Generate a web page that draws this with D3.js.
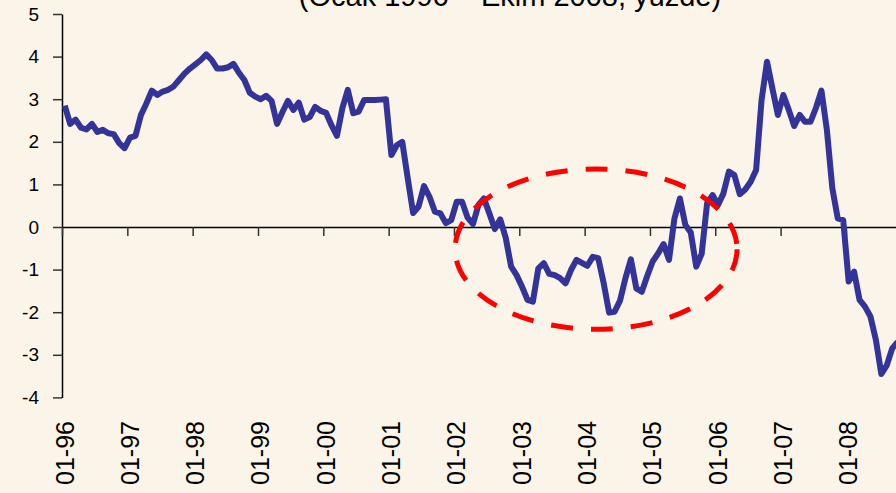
<!DOCTYPE html>
<html>
<head>
<meta charset="utf-8">
<script src="https://cdn.jsdelivr.net/npm/d3@7"></script>
<style>
  html, body { margin: 0; padding: 0; background: #FAF4E9; overflow: hidden; }
  svg { display: block; }
  text { font-family: Arial, "Liberation Sans", sans-serif; fill: #000; }
</style>
</head>
<body>
<svg id="chart" width="896" height="493"></svg>
<script>
// ---- data ----
const titleText = "(Ocak 1996 – Ekim 2008, yüzde)";
const monthCount = 154;           // Jan 1996 .. Oct 2008
const tickLabels = ["01-96","01-97","01-98","01-99","01-00","01-01","01-02",
                    "01-03","01-04","01-05","01-06","01-07","01-08"];
const yTicks = [-4, -3, -2, -1, 0, 1, 2, 3, 4, 5];
const values = [
  2.85, 2.42, 2.52, 2.33, 2.29, 2.42, 2.23, 2.28, 2.20, 2.18, 1.97, 1.85,   // 1996
  2.10, 2.14, 2.63, 2.90, 3.20, 3.10, 3.18, 3.22, 3.30, 3.45, 3.60, 3.72,   // 1997
  3.82, 3.92, 4.05, 3.92, 3.72, 3.72, 3.75, 3.83, 3.62, 3.45, 3.15, 3.06,   // 1998
  3.00, 3.08, 2.96, 2.42, 2.70, 2.96, 2.75, 2.92, 2.52, 2.58, 2.82, 2.73,   // 1999
  2.68, 2.39, 2.14, 2.79, 3.22, 2.67, 2.71, 2.98, 2.98, 2.98, 2.99, 3.00,   // 2000
  1.69, 1.92, 2.00, 1.15, 0.33, 0.48, 0.96, 0.71, 0.36, 0.32, 0.09, 0.16,   // 2001
  0.59, 0.59, 0.22, 0.07, 0.52, 0.67, 0.32, -0.05, 0.18, -0.25, -0.93, -1.13, // 2002
  -1.40, -1.71, -1.75, -0.97, -0.85, -1.10, -1.13, -1.20, -1.32, -1.01, -0.77, -0.84, // 2003
  -0.91, -0.70, -0.73, -1.32, -2.01, -1.99, -1.73, -1.20, -0.76, -1.44, -1.52, -1.15, // 2004
  -0.81, -0.62, -0.40, -0.77, 0.20, 0.67, 0.05, -0.13, -0.93, -0.63, 0.56, 0.75,  // 2005
  0.52, 0.79, 1.30, 1.22, 0.77, 0.88, 1.06, 1.34, 2.98, 3.88, 3.25, 2.63,   // 2006
  3.10, 2.75, 2.37, 2.63, 2.47, 2.47, 2.80, 3.20, 2.28, 0.91, 0.20, 0.16,   // 2007
  -1.28, -1.05, -1.71, -1.87, -2.10, -2.65, -3.45, -3.25, -2.85, -2.70      // 2008
];
// highlighted period (ellipse): centre month index & value, radii in months & units
const highlightCenter = [98.1, -0.52];
const highlightRadius = [25.9, 1.88];

// ---- layout ----
const svg = d3.select("#chart");
const W = 896, H = 493;
const left = 62, monthW = 5.444;
const x = d3.scaleLinear().domain([0, monthCount]).range([left, left + monthCount * monthW]);
const y = d3.scaleLinear().domain([-4, 5]).range([397.4, 14]);

svg.append("rect").attr("width", W).attr("height", H).attr("fill", "#FAF4E9");

// title (mostly cut off at the top, as in the reference)
svg.append("text")
  .attr("x", 510).attr("y", 6)
  .attr("text-anchor", "middle")
  .style("font-size", "29px")
  .text(titleText);

// y axis
const yAxis = d3.axisLeft(y).tickValues(yTicks).tickSize(9).tickSizeOuter(0).tickPadding(14)
  .tickFormat(d => String(d));
const gy = svg.append("g").attr("transform", `translate(${left},0)`).call(yAxis);
gy.select(".domain").attr("stroke", "#000").attr("stroke-width", 1.5);
gy.selectAll(".tick line").attr("stroke", "#333").attr("stroke-width", 1.5);
gy.selectAll(".tick text").style("font-size", "19px").style("font-family", "Arial, 'Liberation Sans', sans-serif").attr("fill", "#000");

// x axis at zero
const tickPos = tickLabels.map((d, k) => k * 12);
const xAxis = d3.axisBottom(x).tickValues(tickPos).tickSize(9).tickSizeOuter(0).tickFormat("");
const gx = svg.append("g").attr("transform", `translate(0,${y(0)})`).call(xAxis);
gx.select(".domain").attr("stroke", "#000").attr("stroke-width", 1.5);
gx.selectAll(".tick line").attr("stroke", "#333").attr("stroke-width", 1.5);

// rotated x labels at the bottom
svg.append("g").selectAll("text")
  .data(tickLabels)
  .join("text")
  .attr("transform", (d, k) => `translate(${x(tickPos[k]) + 11.5},485) rotate(-90)`)
  .attr("text-anchor", "start")
  .style("font-size", "25px")
  .text(d => d);

// series line
const line = d3.line()
  .x((d, i) => x(i + 0.5))
  .y(d => y(d));
svg.append("path")
  .datum(values)
  .attr("d", line)
  .attr("fill", "none")
  .attr("stroke", "#333399")
  .attr("stroke-width", 6)
  .attr("stroke-linejoin", "round");

// dashed red ellipse highlight
const cx = x(highlightCenter[0]), cy = y(highlightCenter[1]);
const rx = x(highlightCenter[0] + highlightRadius[0]) - cx;
const ry = cy - y(highlightCenter[1] + highlightRadius[1]);
svg.append("ellipse")
  .attr("cx", cx).attr("cy", cy).attr("rx", rx).attr("ry", ry)
  .attr("fill", "none")
  .attr("stroke", "#FF0000")
  .attr("stroke-width", 5)
  .attr("stroke-dasharray", "22 18");
</script>
</body>
</html>
